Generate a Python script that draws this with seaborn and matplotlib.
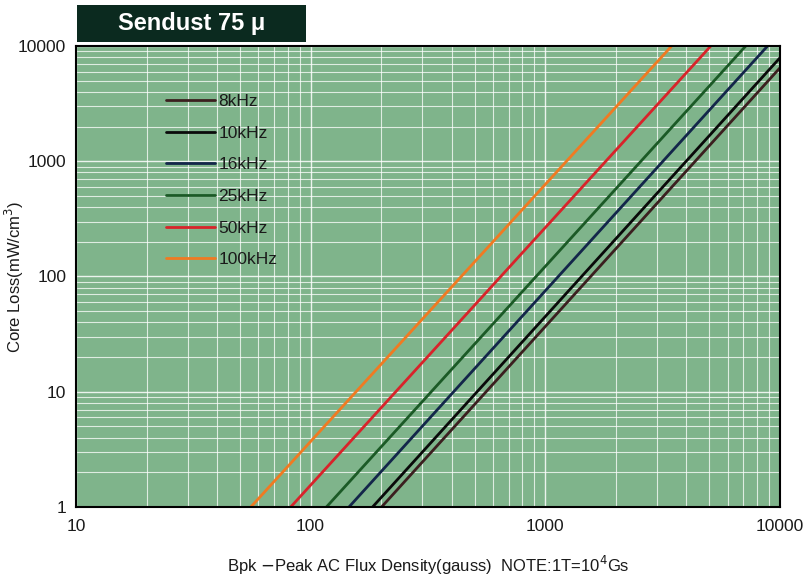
import numpy as np
import pandas as pd
import matplotlib
matplotlib.use('Agg')
import matplotlib.pyplot as plt
import seaborn as sns
from matplotlib.patches import Rectangle

# endpoints of each curve (straight lines on log-log)
freqs = ['8kHz', '10kHz', '16kHz', '25kHz', '50kHz', '100kHz']
bpk_8k = [201, 10000]
loss_8k = [1, 6440]
bpk_10k = [184, 10000]
loss_10k = [1, 7870]
bpk_16k = [146, 8870]
loss_16k = [1, 10000]
bpk_25k = [117, 7160]
loss_25k = [1, 10000]
bpk_50k = [82.4, 5080]
loss_50k = [1, 10000]
bpk_100k = [55.7, 3460]
loss_100k = [1, 10000]

colors = ['#3b1f1f', '#0a0a0a', '#13264a', '#1b5a26', '#d8232a', '#f07a22']

rows = []
for f, b, p in zip(freqs,
                   [bpk_8k, bpk_10k, bpk_16k, bpk_25k, bpk_50k, bpk_100k],
                   [loss_8k, loss_10k, loss_16k, loss_25k, loss_50k, loss_100k]):
    for bb, pp in zip(b, p):
        rows.append({'freq': f, 'Bpk': bb, 'Loss': pp})
df = pd.DataFrame(rows)

sns.set_theme(style='white')
plt.rcParams['font.family'] = ['Liberation Sans', 'DejaVu Sans']

fig = plt.figure(figsize=(8.08, 5.76), dpi=100)
ax = fig.add_axes([0.094, 0.12, 0.871, 0.80])
ax.set_facecolor('#7fb48b')

sns.lineplot(data=df, x='Bpk', y='Loss', hue='freq', hue_order=freqs,
             palette=dict(zip(freqs, colors)), linewidth=2, ax=ax, sort=False)

ax.set_xscale('log')
ax.set_yscale('log')
ax.set_xlim(10, 10000)
ax.set_ylim(1, 10000)

ax.grid(True, which='major', color='white', linewidth=1.0, alpha=0.85)
ax.grid(True, which='minor', color='white', linewidth=0.8, alpha=0.75)
ax.set_axisbelow(True)

ax.set_xticks([10, 100, 1000, 10000])
ax.set_xticklabels(['10', '100', '1000', '10000'])
ax.set_yticks([1, 10, 100, 1000, 10000])
ax.set_yticklabels(['1', '10', '100', '1000', '10000'])
ax.tick_params(axis='both', which='major', direction='in', length=4, width=1,
               color='black', labelsize=12.5, pad=7, labelcolor='#1a1a1a')
ax.tick_params(axis='both', which='minor', length=0)
ax.tick_params(axis='x', pad=9)
for s in ax.spines.values():
    s.set_color('black')
    s.set_linewidth(1.5)

ax.set_xlabel(r'Bpk $-$Peak AC Flux Density(gauss)  NOTE:1T=10$^4$Gs',
              fontsize=12, labelpad=14, color='#1a1a1a')
ax.set_ylabel(r'Core Loss(mW/cm$^3$)', fontsize=12, labelpad=3, color='#1a1a1a')
ax.yaxis.set_label_coords(-0.071, 0.5)

leg = ax.legend(loc='upper left', bbox_to_anchor=(0.106, 0.93), frameon=False,
                fontsize=12.5, handlelength=2.8, handletextpad=0.2,
                labelspacing=0.95, title=None)
for t in leg.get_texts():
    t.set_color('#1a1a1a')

# title box
fig.patches.append(Rectangle((0.0953, 0.927), 0.2834, 0.0642,
                             transform=fig.transFigure, facecolor='#0b2a1f',
                             edgecolor='none'))
fig.text(0.237, 0.959, 'Sendust 75 \u03bc', ha='center', va='center',
         color='white', fontsize=17, fontweight='bold')

fig.savefig('out.png', dpi=100)
